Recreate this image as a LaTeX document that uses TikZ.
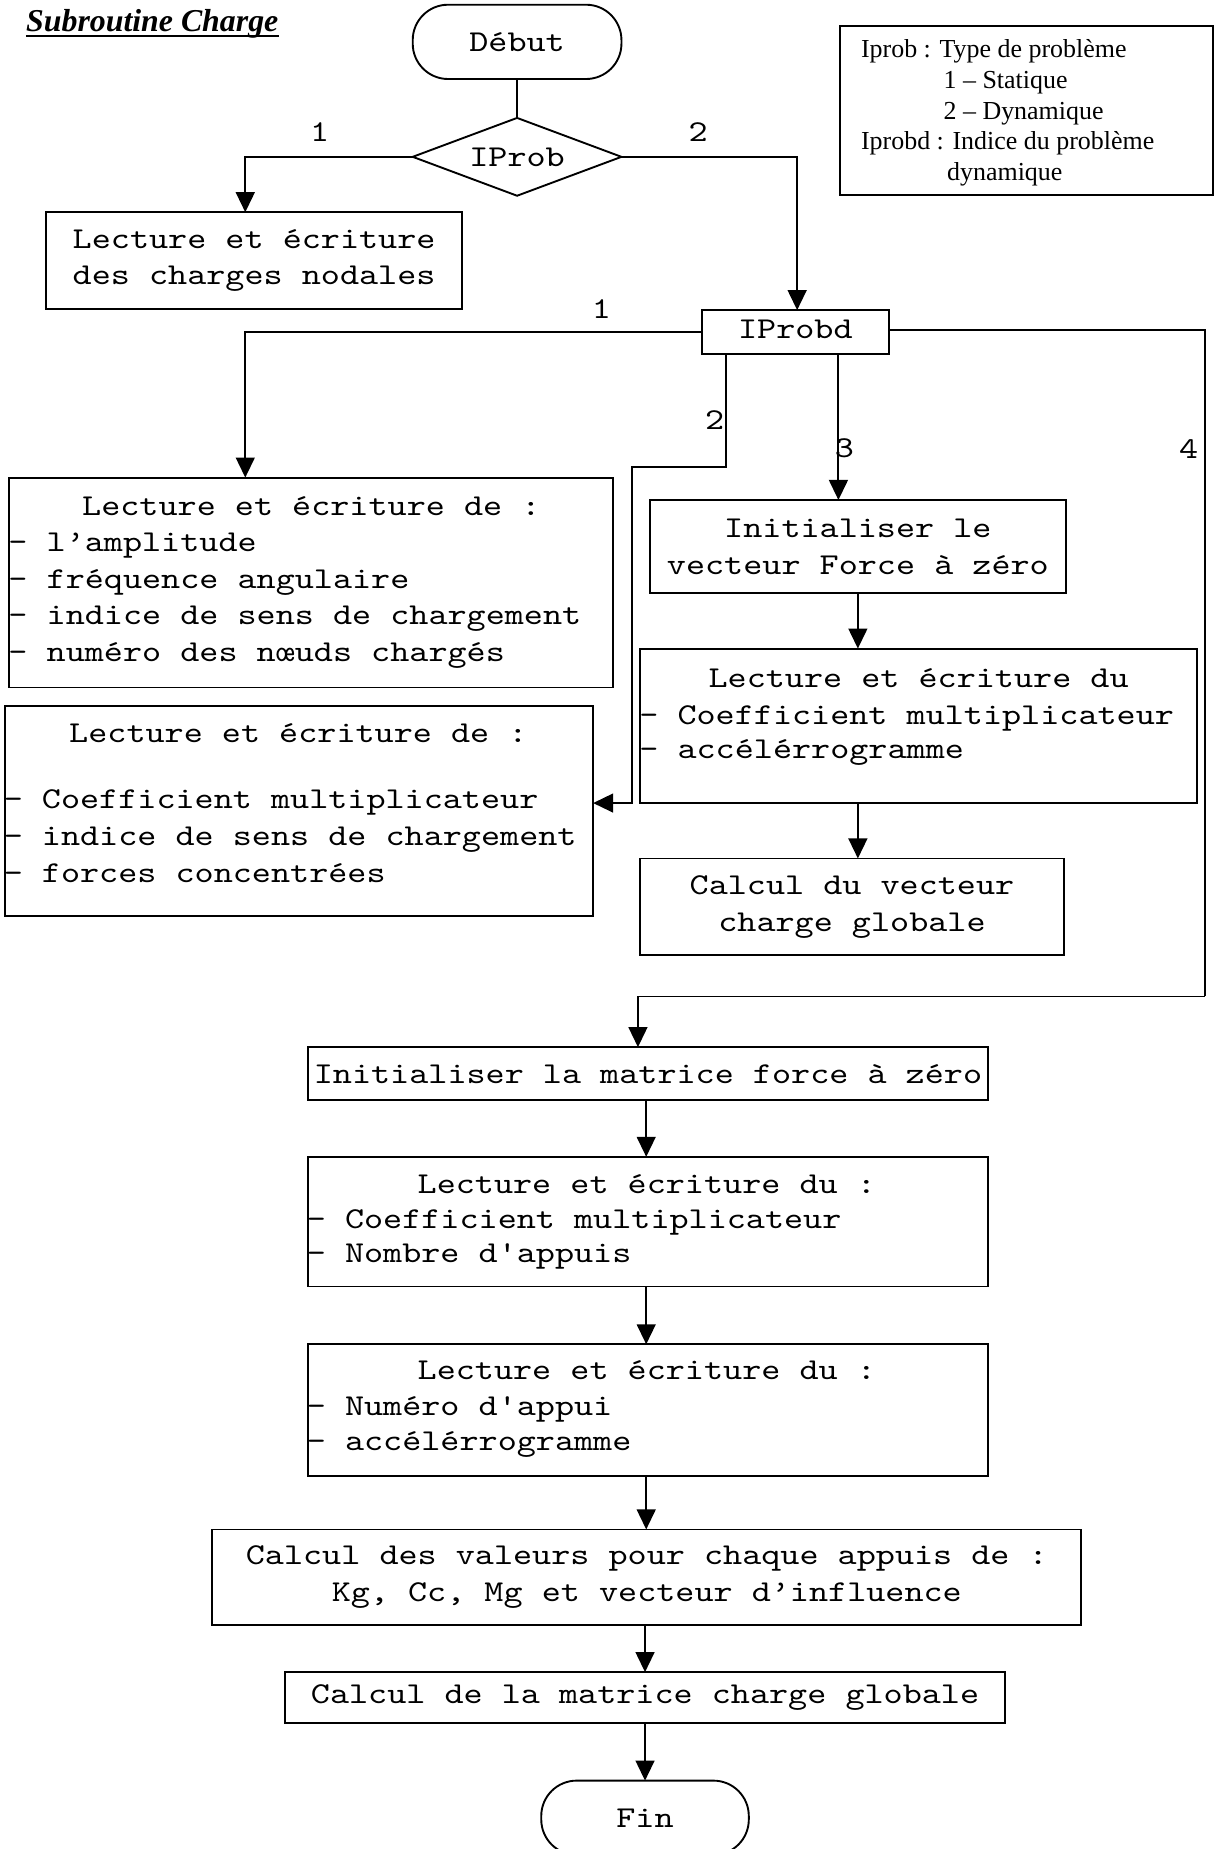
\documentclass[tikz,border=0pt]{standalone}
\usepackage{fontspec}
\setmainfont{Liberation Serif}
\setmonofont{lmmono10-regular}[Extension=.otf,FakeStretch=1.2]
\usetikzlibrary{arrows.meta,shapes.geometric}
\begin{document}
\begin{tikzpicture}[x=1pt,y=-1pt,
  mono/.style={font=\fontsize{25.7}{31}\selectfont\ttfamily},
  box/.style={draw,line width=1.6pt,inner sep=0pt,outer sep=0pt,align=center,mono},
  term/.style={box,rounded corners=30pt},
  tl/.style={mono,inner sep=0pt,anchor=base west},
  tc/.style={mono,inner sep=0pt,anchor=base},
  lbl/.style={mono,inner sep=0pt},
  leg/.style={font=\fontsize{22}{26}\selectfont,inner sep=0pt,anchor=base west},
  ln/.style={line width=1.6pt},
  arr/.style={line width=1.6pt,-{Triangle[length=17pt,width=16pt]}}]
\useasboundingbox (0,0) rectangle (1031,1568);
\begin{scope}
\clip (0,0) rectangle (1031,1568);

% title
\node[inner sep=0pt,anchor=base west,font=\fontsize{27}{30}\selectfont\bfseries\itshape] (title) at (22,27) {Subroutine Charge};
\draw[line width=2.4pt] ([yshift=-3.5pt]title.base west) -- ([yshift=-3.5pt]title.base east);

% legend
\node[box,minimum width=317pt,minimum height=143pt] (legend) at (870.5,93.5) {};
\node[leg] (lg1) at (730,49) {Iprob : Type de problème};
\node[leg] (lg2) at (800,75) {1 – Statique};
\node[leg] (lg3) at (800,101) {2 – Dynamique};
\node[leg] (lg4) at (730,127) {Iprobd : Indice du problème};
\node[leg] (lg5) at (803,153) {dynamique};

% nodes
\node[term,minimum width=177pt,minimum height=63pt] (debut) at (438.5,35.5) {Début};
\node[draw,line width=1.6pt,diamond,aspect=2.68,minimum width=177pt,minimum height=66pt,inner sep=0pt,outer sep=0pt,mono] (iprob) at (438.5,133) {IProb};
\node[box,minimum width=353pt,minimum height=82pt] (nodal) at (215.5,221) {Lecture et écriture\\des charges nodales};
\node[box,minimum width=159pt,minimum height=37pt] (iprobd) at (674.5,281.5) {};
\node[tc] (iprobdt) at (674.5,287) {IProbd};

\node[box,minimum width=512pt,minimum height=178pt] (L1) at (264,494) {};
\node[tc] (L1h) at (264,437) {Lecture et écriture de :};
\node[tl] (L1a) at (7,468) {- l’amplitude};
\node[tl] (L1b) at (7,499) {- fréquence angulaire};
\node[tl] (L1c) at (7,530) {- indice de sens de chargement};
\node[tl] (L1d) at (7,561) {- numéro des nœuds chargés};

\node[box,minimum width=499pt,minimum height=178pt] (L2) at (253.5,688) {};
\node[tc] (L2h) at (253,630) {Lecture et écriture de :};
\node[tl] (L2a) at (3,686) {- Coefficient multiplicateur};
\node[tl] (L2b) at (3,717) {- indice de sens de chargement};
\node[tl] (L2c) at (3,748) {- forces concentrées};

\node[box,minimum width=353pt,minimum height=79pt] (R1) at (727.5,463.5) {Initialiser le\\vecteur Force à zéro};

\node[box,minimum width=472pt,minimum height=131pt] (R2) at (779,615.5) {};
\node[tc] (R2h) at (779,583) {Lecture et écriture du};
\node[tl] (R2a) at (542,614) {- Coefficient multiplicateur};
\node[tl] (R2b) at (542,643) {- accélérrogramme};

\node[box,minimum width=359pt,minimum height=82pt] (R3) at (722.5,769) {Calcul du vecteur\\charge globale};

\node[box,minimum width=577pt,minimum height=45pt] (B1) at (549.5,910.5) {Initialiser la matrice force à zéro};

\node[box,minimum width=577pt,minimum height=110pt] (B2) at (549.5,1036) {};
\node[tc] (B2h) at (548.5,1012) {Lecture et écriture du :};
\node[tl] (B2a) at (260,1042) {- Coefficient multiplicateur};
\node[tl] (B2b) at (260,1071) {- Nombre d'appuis};

\node[box,minimum width=577pt,minimum height=112pt] (B3) at (549.5,1196) {};
\node[tc] (B3h) at (548.5,1170) {Lecture et écriture du :};
\node[tl] (B3a) at (260,1200) {- Numéro d'appui};
\node[tl] (B3b) at (260,1230) {- accélérrogramme};

\node[box,minimum width=737pt,minimum height=81pt] (B4) at (548.5,1337.5) {Calcul des valeurs pour chaque appuis de :\\Kg, Cc, Mg et vecteur d’influence};
\node[box,minimum width=610pt,minimum height=43pt] (B5) at (547,1439.5) {Calcul de la matrice charge globale};
\node[term,minimum width=176pt,minimum height=63pt] (fin) at (547,1541.5) {Fin};

% connector bends
\coordinate (k2a) at (616,396);
\coordinate (k2b) at (536,396);
\coordinate (k4) at (1022,845);

% connectors
\draw[ln] (debut.south) -- (iprob.north);
\draw[arr] (iprob.west) -| ([xshift=-7.5pt]nodal.north);
\draw[arr] (iprob.east) -| ([xshift=1.5pt]iprobd.north);
\draw[arr] (iprobd.west) -| ([xshift=-56pt]L1.north);
\draw[arr] (iprobd.south -| k2a) -- (k2a) -- (k2b) |- ([yshift=7pt]L2.east);
\draw[arr] ([xshift=36.5pt]iprobd.south) -- ([xshift=36.5pt]iprobd.south |- R1.north);
\draw[arr] (R1.south) -- (R1.south |- R2.north);
\draw[arr] (R1.south |- R2.south) -- (R1.south |- R3.north);
\draw[ln,-] ([yshift=1.5pt]iprobd.east) -| (k4);
\draw[arr] (k4) -| ([xshift=-8.5pt]B1.north);
\draw[arr] ([xshift=-1.5pt]B1.south) -- ([xshift=-1.5pt]B1.south |- B2.north);
\draw[arr] ([xshift=-1.5pt]B2.south) -- ([xshift=-1.5pt]B2.south |- B3.north);
\draw[arr] ([xshift=-1.5pt]B3.south) -- ([xshift=-1.5pt]B3.south |- B4.north);
\draw[arr] (B4.south -| fin.north) -- (B5.north -| fin.north);
\draw[arr] (B5.south -| fin.north) -- (fin.north);

% labels
\node[lbl] (n1) at (271,112) {1};
\node[lbl] (n2) at (592,112) {2};
\node[lbl] (n3) at (510,262) {1};
\node[lbl] (n4) at (606,356) {2};
\node[lbl] (n5) at (716,380) {3};
\node[lbl] (n6) at (1008,381) {4};
\end{scope}
\end{tikzpicture}
\end{document}
